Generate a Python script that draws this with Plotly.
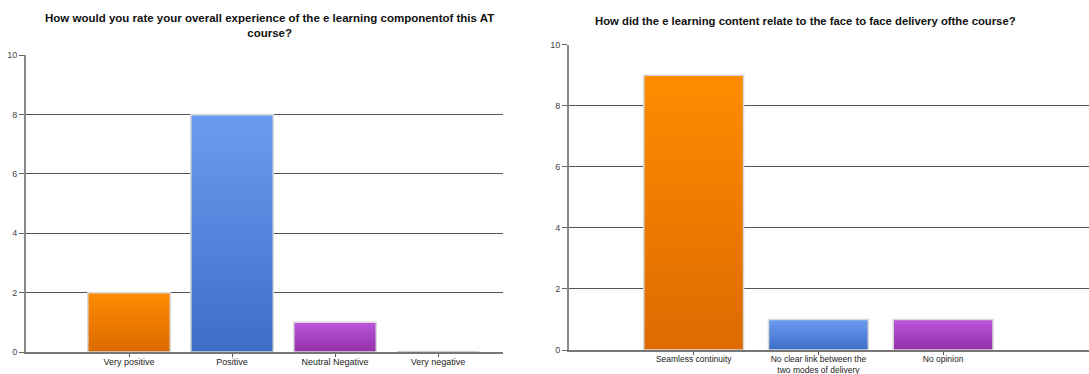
import plotly.graph_objects as go

# Survey question 1: overall experience of the e-learning component
q1_title = "How would you rate your overall experience of the e learning componentof this AT<br>course?"
q1_labels = ["Very positive", "Positive", "Neutral Negative", "Very negative"]
q1_counts = [2, 8, 1, 0]

# Survey question 2: relation between e-learning and face to face delivery
q2_title = "How did the e learning content relate to the face to face delivery ofthe course?"
q2_labels = ["Seamless continuity", "No clear link between the<br>two modes of delivery", "No opinion"]
q2_counts = [9, 1, 1]

# (top colour, bottom colour) per bar, repeating
palette = [("#ff8c00", "#dc6a00"), ("#6b9cf0", "#3d6dc6"), ("#bb55dd", "#9330a8")]

FONT = "Liberation Sans, Arial, sans-serif"
BAR_HALF = 0.4

fig = go.Figure()


def add_bars(counts, xref, yref):
    for i, v in enumerate(counts):
        top, bottom = palette[i % len(palette)]
        xs = [i - BAR_HALF, i + BAR_HALF, i + BAR_HALF, i - BAR_HALF, i - BAR_HALF]
        ys = [0, 0, v, v, 0]
        if v > 0:
            fig.add_trace(go.Scatter(
                x=xs, y=ys, xaxis=xref, yaxis=yref, mode="lines",
                fill="toself",
                fillgradient=dict(type="vertical", start=0, stop=v,
                                  colorscale=[[0, bottom], [1, top]]),
                line=dict(color="#d8d8d8", width=1.5),
                hoverinfo="skip", showlegend=False,
            ))
        else:
            fig.add_trace(go.Scatter(
                x=xs, y=ys, xaxis=xref, yaxis=yref, mode="lines",
                line=dict(color="#bbbbbb", width=1.5),
                hoverinfo="skip", showlegend=False,
            ))


add_bars(q1_counts, "x", "y")
add_bars(q2_counts, "x2", "y2")

W, H = 1089, 374


def xaxis_cfg(domain, labels, right, size):
    positions = list(range(len(labels)))
    return dict(
        domain=domain,
        range=[-1, right],
        tickmode="array",
        tickvals=positions,
        ticktext=labels,
        ticks="",
        minor=dict(tickmode="array", tickvals=positions, ticks="outside",
                   ticklen=3, tickcolor="#555", tickwidth=1, showgrid=False),
        showgrid=False, zeroline=False,
        showline=True, linecolor="#777", linewidth=1.5,
        tickfont=dict(family=FONT, size=size, color="#222"),
        automargin=False,
        fixedrange=True,
    )


def yaxis_cfg(domain, anchor):
    return dict(
        domain=domain, anchor=anchor,
        range=[0, 10], tickvals=[0, 2, 4, 6, 8, 10],
        ticks="outside", ticklen=5, tickcolor="#666", tickwidth=1,
        showgrid=True, gridcolor="#555", gridwidth=1,
        zeroline=False,
        showline=True, linecolor="#888", linewidth=2,
        tickfont=dict(family=FONT, size=9, color="#444"),
        automargin=False,
        fixedrange=True,
    )


fig.update_layout(
    width=W, height=H,
    margin=dict(l=0, r=0, t=0, b=0, pad=0),
    paper_bgcolor="white", plot_bgcolor="white",
    xaxis=dict(xaxis_cfg([26 / W, 503 / W], q1_labels, 3.63, 9), anchor="y"),
    yaxis=yaxis_cfg([(H - 352) / H, (H - 55.3) / H], "x"),
    xaxis2=dict(xaxis_cfg([569 / W, 1.0], q2_labels, 3.17, 8.5), anchor="y2"),
    yaxis2=yaxis_cfg([(H - 350) / H, (H - 44.7) / H], "x2"),
    annotations=[
        dict(text=f"<b>{q1_title}</b>", x=269 / W, y=1 - 25.5 / H,
             xref="paper", yref="paper", showarrow=False,
             xanchor="center", yanchor="middle", align="center",
             font=dict(family=FONT, size=11.5, color="#111")),
        dict(text=f"<b>{q2_title}</b>", x=805 / W, y=1 - 20.5 / H,
             xref="paper", yref="paper", showarrow=False,
             xanchor="center", yanchor="middle", align="center",
             font=dict(family=FONT, size=11.3, color="#111")),
    ],
)

fig.write_html("out.html")
